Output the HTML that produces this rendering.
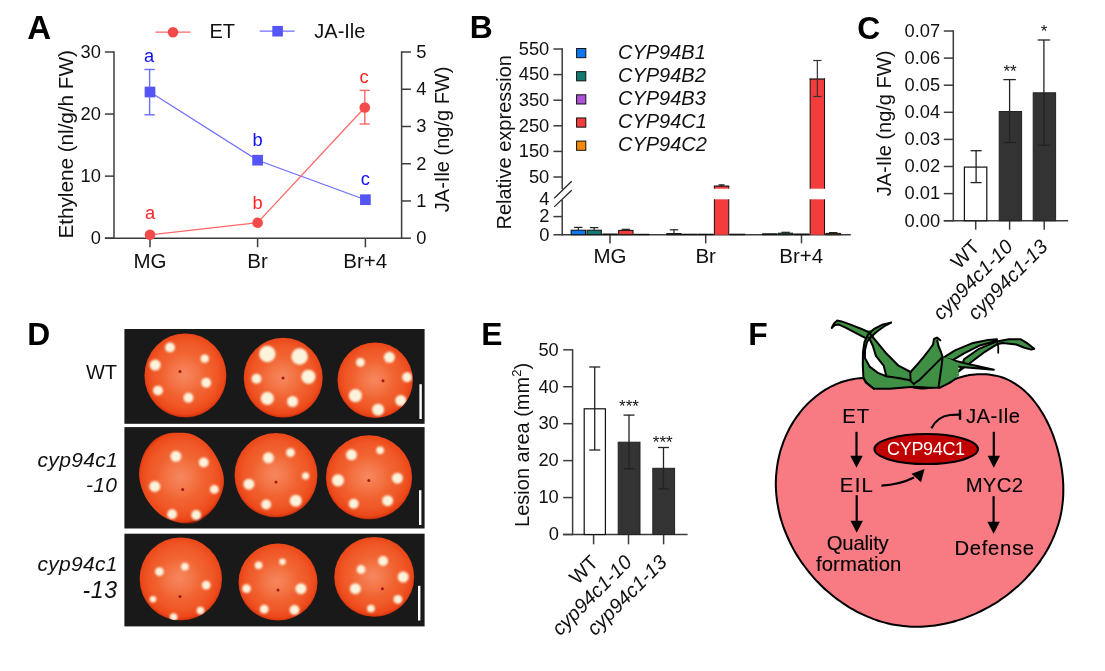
<!DOCTYPE html>
<html><head><meta charset="utf-8"><style>
html,body{margin:0;padding:0;background:#fff;}
svg{display:block;font-family:"Liberation Sans", sans-serif;will-change:transform;}
</style></head><body>
<svg width="1105" height="671" viewBox="0 0 1105 671">
<defs>
<radialGradient id="tg" cx="0.5" cy="0.48" r="0.52">
<stop offset="0" stop-color="#f47848"/>
<stop offset="0.4" stop-color="#f26836"/>
<stop offset="0.75" stop-color="#f05726"/>
<stop offset="0.92" stop-color="#ec4718"/>
<stop offset="0.975" stop-color="#d83812"/>
<stop offset="1" stop-color="#801c06"/>
</radialGradient>
<radialGradient id="hl" cx="0.5" cy="0.5" r="0.5">
<stop offset="0" stop-color="#ffc0b0" stop-opacity="0.22"/>
<stop offset="1" stop-color="#ffc8bc" stop-opacity="0"/>
</radialGradient>
<filter id="bl" x="-50%" y="-50%" width="200%" height="200%"><feGaussianBlur stdDeviation="0.9"/></filter>
</defs>
<text x="27.2" y="38.7" font-size="33" font-weight="bold" fill="#000">A</text>
<line x1="114.0" y1="51.3" x2="114.0" y2="238.9" stroke="#3c3c3c" stroke-width="1.5" />
<line x1="104.9" y1="238.2" x2="401.6" y2="238.2" stroke="#3c3c3c" stroke-width="1.5" />
<line x1="401.6" y1="51.3" x2="401.6" y2="238.9" stroke="#3c3c3c" stroke-width="1.5" />
<line x1="104.9" y1="238.2" x2="114.0" y2="238.2" stroke="#3c3c3c" stroke-width="1.5" />
<text x="100.9" y="244.0" font-size="18.3" text-anchor="end" fill="#111" >0</text>
<line x1="104.9" y1="176.13299999999998" x2="114.0" y2="176.13299999999998" stroke="#3c3c3c" stroke-width="1.5" />
<text x="100.9" y="181.933" font-size="18.3" text-anchor="end" fill="#111" >10</text>
<line x1="104.9" y1="114.066" x2="114.0" y2="114.066" stroke="#3c3c3c" stroke-width="1.5" />
<text x="100.9" y="119.866" font-size="18.3" text-anchor="end" fill="#111" >20</text>
<line x1="104.9" y1="51.998999999999995" x2="114.0" y2="51.998999999999995" stroke="#3c3c3c" stroke-width="1.5" />
<text x="100.9" y="57.79899999999999" font-size="18.3" text-anchor="end" fill="#111" >30</text>
<line x1="401.6" y1="238.2" x2="410.9" y2="238.2" stroke="#3c3c3c" stroke-width="1.5" />
<text x="416.3" y="244.0" font-size="18.3" text-anchor="start" fill="#111" >0</text>
<line x1="401.6" y1="200.95999999999998" x2="410.9" y2="200.95999999999998" stroke="#3c3c3c" stroke-width="1.5" />
<text x="416.3" y="206.76" font-size="18.3" text-anchor="start" fill="#111" >1</text>
<line x1="401.6" y1="163.71999999999997" x2="410.9" y2="163.71999999999997" stroke="#3c3c3c" stroke-width="1.5" />
<text x="416.3" y="169.51999999999998" font-size="18.3" text-anchor="start" fill="#111" >2</text>
<line x1="401.6" y1="126.47999999999999" x2="410.9" y2="126.47999999999999" stroke="#3c3c3c" stroke-width="1.5" />
<text x="416.3" y="132.28" font-size="18.3" text-anchor="start" fill="#111" >3</text>
<line x1="401.6" y1="89.23999999999998" x2="410.9" y2="89.23999999999998" stroke="#3c3c3c" stroke-width="1.5" />
<text x="416.3" y="95.03999999999998" font-size="18.3" text-anchor="start" fill="#111" >4</text>
<line x1="401.6" y1="51.99999999999997" x2="410.9" y2="51.99999999999997" stroke="#3c3c3c" stroke-width="1.5" />
<text x="416.3" y="57.79999999999997" font-size="18.3" text-anchor="start" fill="#111" >5</text>
<line x1="150" y1="238.2" x2="150" y2="247.3" stroke="#3c3c3c" stroke-width="1.5" />
<line x1="257.6" y1="238.2" x2="257.6" y2="247.3" stroke="#3c3c3c" stroke-width="1.5" />
<line x1="365.4" y1="238.2" x2="365.4" y2="247.3" stroke="#3c3c3c" stroke-width="1.5" />
<text x="150" y="268" font-size="20.5" text-anchor="middle" fill="#111" >MG</text>
<text x="257.6" y="268" font-size="20.5" text-anchor="middle" fill="#111" >Br</text>
<text x="365.2" y="268" font-size="20.5" text-anchor="middle" fill="#111" >Br+4</text>
<text transform="translate(72.9,238.51) rotate(-90)" font-size="20.8" fill="#111" textLength="188.50" lengthAdjust="spacing" >Ethylene (nl/g/h FW)</text>
<text transform="translate(449,139.4) rotate(-90)" font-size="20" text-anchor="middle" fill="#111" >JA-Ile (ng/g FW)</text>
<line x1="155.3" y1="32.2" x2="190.6" y2="32.2" stroke="#f66" stroke-width="1.3" />
<circle cx="173" cy="32.2" r="5.3" fill="#f54a4a"/>
<text x="209.4" y="38.1" font-size="20" text-anchor="start" fill="#111" >ET</text>
<line x1="259.7" y1="31.2" x2="294.6" y2="31.2" stroke="#6d6dff" stroke-width="1.3" />
<rect x="272.3" y="25.9" width="10.6" height="10.6" fill="#5555f5"/>
<text x="314.3" y="37.8" font-size="20" text-anchor="start" fill="#111" >JA-Ile</text>
<polyline points="150,92 257.6,160.2 365.4,199.7" fill="none" stroke="#6d6dff" stroke-width="1.2"/>
<line x1="149.6" y1="69.5" x2="149.6" y2="114.8" stroke="#6d6dff" stroke-width="1.4" />
<line x1="144.4" y1="69.5" x2="154.8" y2="69.5" stroke="#6d6dff" stroke-width="1.4" />
<line x1="144.4" y1="114.8" x2="154.8" y2="114.8" stroke="#6d6dff" stroke-width="1.4" />
<rect x="144.65" y="86.65" width="10.7" height="10.7" fill="#5555f5"/>
<rect x="252.25000000000003" y="154.85" width="10.7" height="10.7" fill="#5555f5"/>
<rect x="360.04999999999995" y="194.35" width="10.7" height="10.7" fill="#5555f5"/>
<polyline points="150,234.8 257.6,222.7 364.8,107.5" fill="none" stroke="#f66" stroke-width="1.2"/>
<line x1="364.8" y1="90.4" x2="364.8" y2="124" stroke="#f66" stroke-width="1.4" />
<line x1="359.6" y1="90.4" x2="369.8" y2="90.4" stroke="#f66" stroke-width="1.4" />
<line x1="359.6" y1="124" x2="369.8" y2="124" stroke="#f66" stroke-width="1.4" />
<circle cx="150" cy="234.8" r="5.3" fill="#f54a4a"/>
<circle cx="257.6" cy="222.7" r="5.3" fill="#f54a4a"/>
<circle cx="364.8" cy="107.5" r="5.3" fill="#f54a4a"/>
<text x="149" y="62.4" font-size="18.3" text-anchor="middle" fill="#1010ee" >a</text>
<text x="257.6" y="146" font-size="18.3" text-anchor="middle" fill="#1010ee" >b</text>
<text x="365.4" y="184.6" font-size="18.3" text-anchor="middle" fill="#1010ee" >c</text>
<text x="150" y="219" font-size="18.3" text-anchor="middle" fill="#f22" >a</text>
<text x="257.6" y="208.6" font-size="18.3" text-anchor="middle" fill="#f22" >b</text>
<text x="364" y="82.7" font-size="18.3" text-anchor="middle" fill="#f22" >c</text>
<text x="469.8" y="38.4" font-size="31.8" font-weight="bold" fill="#000">B</text>
<line x1="562.2" y1="48.3" x2="562.2" y2="189" stroke="#3c3c3c" stroke-width="1.5" />
<line x1="562.2" y1="199.7" x2="562.2" y2="235.39999999999998" stroke="#3c3c3c" stroke-width="1.5" />
<line x1="553.4" y1="234.7" x2="850.8" y2="234.7" stroke="#3c3c3c" stroke-width="1.5" />
<line x1="553.4" y1="49.0" x2="562.2" y2="49.0" stroke="#3c3c3c" stroke-width="1.5" />
<text x="549.3" y="54.8" font-size="18.3" text-anchor="end" fill="#111" >550</text>
<line x1="553.4" y1="74.6" x2="562.2" y2="74.6" stroke="#3c3c3c" stroke-width="1.5" />
<text x="549.3" y="80.39999999999999" font-size="18.3" text-anchor="end" fill="#111" >450</text>
<line x1="553.4" y1="100.2" x2="562.2" y2="100.2" stroke="#3c3c3c" stroke-width="1.5" />
<text x="549.3" y="106.0" font-size="18.3" text-anchor="end" fill="#111" >350</text>
<line x1="553.4" y1="125.80000000000001" x2="562.2" y2="125.80000000000001" stroke="#3c3c3c" stroke-width="1.5" />
<text x="549.3" y="131.60000000000002" font-size="18.3" text-anchor="end" fill="#111" >250</text>
<line x1="553.4" y1="151.4" x2="562.2" y2="151.4" stroke="#3c3c3c" stroke-width="1.5" />
<text x="549.3" y="157.20000000000002" font-size="18.3" text-anchor="end" fill="#111" >150</text>
<line x1="553.4" y1="177.0" x2="562.2" y2="177.0" stroke="#3c3c3c" stroke-width="1.5" />
<text x="549.3" y="182.8" font-size="18.3" text-anchor="end" fill="#111" >50</text>
<line x1="553.4" y1="216.6" x2="562.2" y2="216.6" stroke="#3c3c3c" stroke-width="1.5" />
<text x="549.3" y="222.4" font-size="18.3" text-anchor="end" fill="#111" >2</text>
<text x="549.3" y="240.5" font-size="18.3" text-anchor="end" fill="#111" >0</text>
<text x="549.3" y="204.70000000000002" font-size="18.3" text-anchor="end" fill="#111" >4</text>
<line x1="554.2" y1="198.3" x2="571.7" y2="181.2" stroke="#222" stroke-width="1.2" />
<line x1="554.2" y1="206.9" x2="571.7" y2="190.2" stroke="#222" stroke-width="1.2" />
<text transform="translate(510.6,142.3) rotate(-90)" font-size="20" text-anchor="middle" fill="#111" >Relative expression</text>
<line x1="610" y1="234.7" x2="610" y2="243.4" stroke="#3c3c3c" stroke-width="1.5" />
<line x1="705.7" y1="234.7" x2="705.7" y2="243.4" stroke="#3c3c3c" stroke-width="1.5" />
<line x1="801.5" y1="234.7" x2="801.5" y2="243.4" stroke="#3c3c3c" stroke-width="1.5" />
<text x="610" y="263.4" font-size="20.5" text-anchor="middle" fill="#111" >MG</text>
<text x="705.7" y="263.4" font-size="20.5" text-anchor="middle" fill="#111" >Br</text>
<text x="801.3" y="263.4" font-size="20.5" text-anchor="middle" fill="#111" >Br+4</text>
<rect x="576.6" y="48.5" width="9.2" height="9.2" fill="#0a78f0" stroke="#111" stroke-width="1"/>
<text x="618" y="58.7" font-size="20" text-anchor="start" fill="#111" font-style="italic">CYP94B1</text>
<rect x="576.6" y="71.65" width="9.2" height="9.2" fill="#127a70" stroke="#111" stroke-width="1"/>
<text x="618" y="81.85" font-size="20" text-anchor="start" fill="#111" font-style="italic">CYP94B2</text>
<rect x="576.6" y="94.80000000000001" width="9.2" height="9.2" fill="#b050d8" stroke="#111" stroke-width="1"/>
<text x="618" y="105.0" font-size="20" text-anchor="start" fill="#111" font-style="italic">CYP94B3</text>
<rect x="576.6" y="117.94999999999999" width="9.2" height="9.2" fill="#f43c3c" stroke="#111" stroke-width="1"/>
<text x="618" y="128.14999999999998" font-size="20" text-anchor="start" fill="#111" font-style="italic">CYP94C1</text>
<rect x="576.6" y="141.1" width="9.2" height="9.2" fill="#f58a05" stroke="#111" stroke-width="1"/>
<text x="618" y="151.29999999999998" font-size="20" text-anchor="start" fill="#111" font-style="italic">CYP94C2</text>
<rect x="571.0999999999999" y="230.2" width="14.4" height="4.5" fill="#0a78f0" stroke="#111" stroke-width="1"/>
<line x1="578.3" y1="227.4" x2="578.3" y2="230.2" stroke="#222" stroke-width="1.2" />
<line x1="574.05" y1="227.4" x2="582.55" y2="227.4" stroke="#222" stroke-width="1.2" />
<rect x="586.9499999999999" y="230.2" width="14.4" height="4.5" fill="#127a70" stroke="#111" stroke-width="1"/>
<line x1="594.15" y1="227.6" x2="594.15" y2="230.2" stroke="#222" stroke-width="1.2" />
<line x1="589.9" y1="227.6" x2="598.4" y2="227.6" stroke="#222" stroke-width="1.2" />
<rect x="602.8" y="234.0" width="14.4" height="0.6999999999999886" fill="#b050d8" stroke="#111" stroke-width="1"/>
<rect x="618.65" y="230.4" width="14.4" height="4.299999999999983" fill="#f43c3c" stroke="#111" stroke-width="1"/>
<line x1="625.85" y1="229.3" x2="625.85" y2="230.4" stroke="#222" stroke-width="1.2" />
<line x1="621.6" y1="229.3" x2="630.1" y2="229.3" stroke="#222" stroke-width="1.2" />
<rect x="634.5" y="234.3" width="14.4" height="0.39999999999997726" fill="#f58a05" stroke="#111" stroke-width="1"/>
<rect x="666.8" y="233.6" width="14.4" height="1.0999999999999943" fill="#0a78f0" stroke="#111" stroke-width="1"/>
<line x1="674.0" y1="229.8" x2="674.0" y2="233.6" stroke="#222" stroke-width="1.2" />
<line x1="669.75" y1="229.8" x2="678.25" y2="229.8" stroke="#222" stroke-width="1.2" />
<rect x="682.65" y="234.2" width="14.4" height="0.5" fill="#127a70" stroke="#111" stroke-width="1"/>
<rect x="698.5" y="234.2" width="14.4" height="0.5" fill="#b050d8" stroke="#111" stroke-width="1"/>
<rect x="714.35" y="199.3" width="14.4" height="35.39999999999998" fill="#f43c3c"/>
<line x1="714.35" y1="199.3" x2="714.35" y2="234.7" stroke="#111" stroke-width="1" />
<line x1="728.75" y1="199.3" x2="728.75" y2="234.7" stroke="#111" stroke-width="1" />
<rect x="714.35" y="186.1" width="14.4" height="2.6" fill="#f43c3c"/>
<line x1="714.35" y1="186.1" x2="714.35" y2="188.7" stroke="#111" stroke-width="1" />
<line x1="728.75" y1="186.1" x2="728.75" y2="188.7" stroke="#111" stroke-width="1" />
<line x1="713.85" y1="186.1" x2="729.25" y2="186.1" stroke="#111" stroke-width="1.2" />
<line x1="718.5500000000001" y1="184.9" x2="724.5500000000001" y2="184.9" stroke="#111" stroke-width="1.2" />
<line x1="721.5500000000001" y1="184.9" x2="721.5500000000001" y2="186.1" stroke="#111" stroke-width="1.2" />
<rect x="730.2" y="234.2" width="14.4" height="0.5" fill="#f58a05" stroke="#111" stroke-width="1"/>
<rect x="762.5999999999999" y="233.8" width="14.4" height="0.8999999999999773" fill="#0a78f0" stroke="#111" stroke-width="1"/>
<rect x="778.4499999999999" y="233.2" width="14.4" height="1.5" fill="#127a70" stroke="#111" stroke-width="1"/>
<line x1="785.65" y1="232.3" x2="785.65" y2="233.2" stroke="#222" stroke-width="1.2" />
<line x1="781.4" y1="232.3" x2="789.9" y2="232.3" stroke="#222" stroke-width="1.2" />
<rect x="794.3" y="234.0" width="14.4" height="0.6999999999999886" fill="#b050d8" stroke="#111" stroke-width="1"/>
<rect x="810.15" y="199.3" width="14.4" height="35.39999999999998" fill="#f43c3c"/>
<line x1="810.15" y1="199.3" x2="810.15" y2="234.7" stroke="#111" stroke-width="1" />
<line x1="824.55" y1="199.3" x2="824.55" y2="234.7" stroke="#111" stroke-width="1" />
<rect x="810.15" y="79" width="14.4" height="109.69999999999999" fill="#f43c3c"/>
<line x1="810.15" y1="78.5" x2="810.15" y2="188.7" stroke="#111" stroke-width="1" />
<line x1="824.55" y1="78.5" x2="824.55" y2="188.7" stroke="#111" stroke-width="1" />
<line x1="809.65" y1="79" x2="825.05" y2="79" stroke="#111" stroke-width="1.2" />
<line x1="817.35" y1="60.5" x2="817.35" y2="96.5" stroke="#333" stroke-width="1.2" />
<line x1="813.2" y1="60.5" x2="821.5" y2="60.5" stroke="#333" stroke-width="1.2" />
<line x1="813.2" y1="96.5" x2="821.5" y2="96.5" stroke="#333" stroke-width="1.2" />
<rect x="826.0" y="233.4" width="14.4" height="1.299999999999983" fill="#f58a05" stroke="#111" stroke-width="1"/>
<line x1="833.2" y1="232.6" x2="833.2" y2="233.4" stroke="#222" stroke-width="1.2" />
<line x1="828.95" y1="232.6" x2="837.45" y2="232.6" stroke="#222" stroke-width="1.2" />
<text x="857.2" y="38.5" font-size="31.8" font-weight="bold" fill="#000">C</text>
<line x1="953.3" y1="30.3" x2="953.3" y2="221.39999999999998" stroke="#3c3c3c" stroke-width="1.5" />
<line x1="943.8" y1="220.7" x2="1068.2" y2="220.7" stroke="#3c3c3c" stroke-width="1.5" />
<line x1="943.8" y1="220.7" x2="953.3" y2="220.7" stroke="#3c3c3c" stroke-width="1.5" />
<text x="940.2" y="226.5" font-size="18.3" text-anchor="end" fill="#111" >0.00</text>
<line x1="943.8" y1="193.6" x2="953.3" y2="193.6" stroke="#3c3c3c" stroke-width="1.5" />
<text x="940.2" y="199.4" font-size="18.3" text-anchor="end" fill="#111" >0.01</text>
<line x1="943.8" y1="166.5" x2="953.3" y2="166.5" stroke="#3c3c3c" stroke-width="1.5" />
<text x="940.2" y="172.3" font-size="18.3" text-anchor="end" fill="#111" >0.02</text>
<line x1="943.8" y1="139.39999999999998" x2="953.3" y2="139.39999999999998" stroke="#3c3c3c" stroke-width="1.5" />
<text x="940.2" y="145.2" font-size="18.3" text-anchor="end" fill="#111" >0.03</text>
<line x1="943.8" y1="112.29999999999998" x2="953.3" y2="112.29999999999998" stroke="#3c3c3c" stroke-width="1.5" />
<text x="940.2" y="118.09999999999998" font-size="18.3" text-anchor="end" fill="#111" >0.04</text>
<line x1="943.8" y1="85.19999999999999" x2="953.3" y2="85.19999999999999" stroke="#3c3c3c" stroke-width="1.5" />
<text x="940.2" y="90.99999999999999" font-size="18.3" text-anchor="end" fill="#111" >0.05</text>
<line x1="943.8" y1="58.099999999999994" x2="953.3" y2="58.099999999999994" stroke="#3c3c3c" stroke-width="1.5" />
<text x="940.2" y="63.89999999999999" font-size="18.3" text-anchor="end" fill="#111" >0.06</text>
<line x1="943.8" y1="30.99999999999997" x2="953.3" y2="30.99999999999997" stroke="#3c3c3c" stroke-width="1.5" />
<text x="940.2" y="36.79999999999997" font-size="18.3" text-anchor="end" fill="#111" >0.07</text>
<line x1="975.7" y1="220.7" x2="975.7" y2="229.7" stroke="#3c3c3c" stroke-width="1.5" />
<line x1="1009.6" y1="220.7" x2="1009.6" y2="229.7" stroke="#3c3c3c" stroke-width="1.5" />
<line x1="1044.2" y1="220.7" x2="1044.2" y2="229.7" stroke="#3c3c3c" stroke-width="1.5" />
<text transform="translate(890.9,123.5) rotate(-90)" font-size="20" text-anchor="middle" fill="#111" >JA-Ile (ng/g FW)</text>
<rect x="964.4" y="167.1" width="22.4" height="53.599999999999994" fill="#fff" stroke="#111" stroke-width="1.2"/>
<rect x="999.1999999999999" y="111.5" width="22.4" height="109.19999999999999" fill="#333" stroke="#222" stroke-width="1"/>
<rect x="1033.2" y="92.8" width="22.4" height="127.89999999999999" fill="#333" stroke="#222" stroke-width="1"/>
<line x1="976.1" y1="150.7" x2="976.1" y2="182.6" stroke="#222" stroke-width="1.3" />
<line x1="970.6" y1="150.7" x2="981.6" y2="150.7" stroke="#222" stroke-width="1.3" />
<line x1="970.6" y1="182.6" x2="981.6" y2="182.6" stroke="#222" stroke-width="1.3" />
<line x1="1009.6" y1="79.6" x2="1009.6" y2="142.5" stroke="#222" stroke-width="1.3" />
<line x1="1003.35" y1="79.6" x2="1015.85" y2="79.6" stroke="#222" stroke-width="1.3" />
<line x1="1003.35" y1="142.5" x2="1015.85" y2="142.5" stroke="#222" stroke-width="1.3" />
<line x1="1043.9" y1="40" x2="1043.9" y2="145.3" stroke="#222" stroke-width="1.3" />
<line x1="1037.65" y1="40" x2="1050.15" y2="40" stroke="#222" stroke-width="1.3" />
<line x1="1037.65" y1="145.3" x2="1050.15" y2="145.3" stroke="#222" stroke-width="1.3" />
<text x="1010" y="77" font-size="17" text-anchor="middle" fill="#111" >**</text>
<text x="1044" y="36.8" font-size="17" text-anchor="middle" fill="#111" >*</text>
<text transform="translate(981,248) rotate(-45)" font-size="20" text-anchor="end" fill="#111">WT</text>
<text transform="translate(1014.2,248) rotate(-45)" font-size="20" text-anchor="end" fill="#111"><tspan font-style="italic">cyp94c1-10</tspan></text>
<text transform="translate(1048.8,248) rotate(-45)" font-size="20" text-anchor="end" fill="#111"><tspan font-style="italic">cyp94c1-13</tspan></text>
<text x="481.3" y="345" font-size="31.8" font-weight="bold" fill="#000">E</text>
<line x1="572.6" y1="349.1" x2="572.6" y2="535.2" stroke="#3c3c3c" stroke-width="1.5" />
<line x1="563" y1="534.5" x2="687.6" y2="534.5" stroke="#3c3c3c" stroke-width="1.5" />
<line x1="563.2" y1="534.5" x2="572.6" y2="534.5" stroke="#3c3c3c" stroke-width="1.5" />
<text x="558.8" y="540.3" font-size="18.3" text-anchor="end" fill="#111" >0</text>
<line x1="563.2" y1="497.56" x2="572.6" y2="497.56" stroke="#3c3c3c" stroke-width="1.5" />
<text x="558.8" y="503.36" font-size="18.3" text-anchor="end" fill="#111" >10</text>
<line x1="563.2" y1="460.62" x2="572.6" y2="460.62" stroke="#3c3c3c" stroke-width="1.5" />
<text x="558.8" y="466.42" font-size="18.3" text-anchor="end" fill="#111" >20</text>
<line x1="563.2" y1="423.68" x2="572.6" y2="423.68" stroke="#3c3c3c" stroke-width="1.5" />
<text x="558.8" y="429.48" font-size="18.3" text-anchor="end" fill="#111" >30</text>
<line x1="563.2" y1="386.74" x2="572.6" y2="386.74" stroke="#3c3c3c" stroke-width="1.5" />
<text x="558.8" y="392.54" font-size="18.3" text-anchor="end" fill="#111" >40</text>
<line x1="563.2" y1="349.8" x2="572.6" y2="349.8" stroke="#3c3c3c" stroke-width="1.5" />
<text x="558.8" y="355.6" font-size="18.3" text-anchor="end" fill="#111" >50</text>
<line x1="593.6" y1="534.5" x2="593.6" y2="544.3" stroke="#3c3c3c" stroke-width="1.5" />
<line x1="628.5" y1="534.5" x2="628.5" y2="544.3" stroke="#3c3c3c" stroke-width="1.5" />
<line x1="663.6" y1="534.5" x2="663.6" y2="544.3" stroke="#3c3c3c" stroke-width="1.5" />
<text transform="translate(528.6,444.9) rotate(-90)" font-size="20" text-anchor="middle" fill="#111" >Lesion area (mm<tspan font-size="13" dy="-8">2</tspan><tspan dy="8">)</tspan></text>
<rect x="584.2" y="408.8" width="21.2" height="125.69999999999999" fill="#fff" stroke="#111" stroke-width="1.2"/>
<rect x="618.2" y="442.2" width="21.8" height="92.30000000000001" fill="#333" stroke="#222" stroke-width="1"/>
<rect x="652.8" y="468.3" width="21.8" height="66.19999999999999" fill="#333" stroke="#222" stroke-width="1"/>
<line x1="594.7" y1="367" x2="594.7" y2="450" stroke="#222" stroke-width="1.3" />
<line x1="589.2" y1="367" x2="600.2" y2="367" stroke="#222" stroke-width="1.3" />
<line x1="589.2" y1="450" x2="600.2" y2="450" stroke="#222" stroke-width="1.3" />
<line x1="629" y1="415.1" x2="629" y2="468.8" stroke="#222" stroke-width="1.3" />
<line x1="623.5" y1="415.1" x2="634.5" y2="415.1" stroke="#222" stroke-width="1.3" />
<line x1="623.5" y1="468.8" x2="634.5" y2="468.8" stroke="#222" stroke-width="1.3" />
<line x1="663.5" y1="447.5" x2="663.5" y2="488.9" stroke="#222" stroke-width="1.3" />
<line x1="658.0" y1="447.5" x2="669.0" y2="447.5" stroke="#222" stroke-width="1.3" />
<line x1="658.0" y1="488.9" x2="669.0" y2="488.9" stroke="#222" stroke-width="1.3" />
<text x="629" y="412.4" font-size="17" text-anchor="middle" fill="#111" >***</text>
<text x="662.8" y="448" font-size="17" text-anchor="middle" fill="#111" >***</text>
<text transform="translate(599.5,563.5) rotate(-45)" font-size="20" text-anchor="end" fill="#111">WT</text>
<text transform="translate(633,563.5) rotate(-45)" font-size="20" text-anchor="end" fill="#111"><tspan font-style="italic">cyp94c1-10</tspan></text>
<text transform="translate(668,563.5) rotate(-45)" font-size="20" text-anchor="end" fill="#111"><tspan font-style="italic">cyp94c1-13</tspan></text>
<text x="27.3" y="345.1" font-size="31.8" font-weight="bold" fill="#000">D</text>
<text x="117" y="378.8" font-size="20" text-anchor="end" fill="#111" >WT</text>
<text x="37.51" y="466.9" font-size="21" fill="#111" textLength="80.26" lengthAdjust="spacing" font-style="italic">cyp94c1</text>
<text x="86.12" y="491.8" font-size="21" fill="#111" textLength="30.85" lengthAdjust="spacing" font-style="italic">-10</text>
<text x="37.51" y="570.6" font-size="21" fill="#111" textLength="79.86" lengthAdjust="spacing" font-style="italic">cyp94c1</text>
<text x="82.52" y="597.5" font-size="23" fill="#111" textLength="34.48" lengthAdjust="spacing" font-style="italic">-13</text>
<rect x="124.4" y="329" width="300.2" height="94.80000000000001" fill="#1a1919"/>
<rect x="124.4" y="427.1" width="300.2" height="101.39999999999998" fill="#1a1919"/>
<rect x="124.4" y="533.7" width="300.2" height="92.69999999999993" fill="#1a1919"/>
<clipPath id="tc0"><ellipse cx="185.4" cy="375.5" rx="41" ry="42.1"/></clipPath>
<ellipse cx="185.4" cy="375.5" rx="41" ry="42.1" fill="url(#tg)"/>
<g clip-path="url(#tc0)">
<ellipse cx="183.4" cy="375.5" rx="22.55" ry="21.05" fill="url(#hl)"/>
<circle cx="170" cy="347.4" r="4.95" fill="#fcf3dc" filter="url(#bl)"/>
<circle cx="155.2" cy="365.1" r="5.50" fill="#fcf3dc" filter="url(#bl)"/>
<circle cx="204.7" cy="358.7" r="4.12" fill="#fcf3dc" filter="url(#bl)"/>
<circle cx="206.2" cy="382.8" r="4.95" fill="#fcf3dc" filter="url(#bl)"/>
<circle cx="158" cy="390.6" r="4.95" fill="#fcf3dc" filter="url(#bl)"/>
<circle cx="188.4" cy="397.7" r="4.95" fill="#fcf3dc" filter="url(#bl)"/>
<circle cx="180" cy="371.5" r="1.5" fill="#a01810"/>
</g>
<clipPath id="tc1"><ellipse cx="283.2" cy="377.8" rx="39.5" ry="40"/></clipPath>
<ellipse cx="283.2" cy="377.8" rx="39.5" ry="40" fill="url(#tg)"/>
<g clip-path="url(#tc1)">
<ellipse cx="281.2" cy="377.8" rx="21.725" ry="20.0" fill="url(#hl)"/>
<circle cx="267.3" cy="354" r="8.25" fill="#fcf3dc" filter="url(#bl)"/>
<circle cx="299.6" cy="356.5" r="8.25" fill="#fcf3dc" filter="url(#bl)"/>
<circle cx="256.5" cy="378.7" r="4.95" fill="#fcf3dc" filter="url(#bl)"/>
<circle cx="308.4" cy="376.8" r="7.15" fill="#fcf3dc" filter="url(#bl)"/>
<circle cx="267.3" cy="398.4" r="6.60" fill="#fcf3dc" filter="url(#bl)"/>
<circle cx="292.6" cy="401.5" r="5.50" fill="#fcf3dc" filter="url(#bl)"/>
<circle cx="283" cy="378" r="1.5" fill="#a01810"/>
</g>
<clipPath id="tc2"><ellipse cx="375.2" cy="380.3" rx="37.7" ry="37.9"/></clipPath>
<ellipse cx="375.2" cy="380.3" rx="37.7" ry="37.9" fill="url(#tg)"/>
<g clip-path="url(#tc2)">
<ellipse cx="373.2" cy="380.3" rx="20.735000000000003" ry="18.95" fill="url(#hl)"/>
<circle cx="360.4" cy="362.3" r="4.40" fill="#fcf3dc" filter="url(#bl)"/>
<circle cx="389.4" cy="357.3" r="5.50" fill="#fcf3dc" filter="url(#bl)"/>
<circle cx="407.1" cy="377.2" r="4.95" fill="#fcf3dc" filter="url(#bl)"/>
<circle cx="355.4" cy="395.6" r="6.60" fill="#fcf3dc" filter="url(#bl)"/>
<circle cx="400.8" cy="400.5" r="5.50" fill="#fcf3dc" filter="url(#bl)"/>
<circle cx="378.1" cy="409.7" r="6.05" fill="#fcf3dc" filter="url(#bl)"/>
<circle cx="383" cy="380.7" r="1.5" fill="#a01810"/>
</g>
<clipPath id="tc3"><path d="M177,432.8 C181.7,432.8 187.7,432.6 192.6,434.4 C197.5,436.2 202.8,440.1 206.7,443.8 C210.6,447.5 213.5,451.9 216.1,456.3 C218.7,460.7 221.0,466.0 222.3,470.4 C223.6,474.8 224.2,478.7 223.9,482.9 C223.7,487.1 222.6,491.0 220.8,495.4 C219.0,499.8 216.3,505.3 212.9,509.5 C209.5,513.7 204.6,518.1 200.4,520.5 C196.2,522.9 192.3,523.5 187.9,523.6 C183.5,523.7 178.5,522.8 173.8,521.2 C169.1,519.6 164.1,517.7 159.7,514.2 C155.3,510.7 150.4,505.3 147.2,500.1 C143.9,494.9 141.5,488.1 140.2,482.9 C138.9,477.7 138.8,473.8 139.4,468.8 C140.1,463.9 141.8,457.9 144.1,453.2 C146.4,448.5 150.1,443.7 153.5,440.6 C156.9,437.5 160.5,435.7 164.4,434.4 C168.3,433.1 172.3,432.8 177,432.8 Z"/></clipPath>
<path d="M177,432.8 C181.7,432.8 187.7,432.6 192.6,434.4 C197.5,436.2 202.8,440.1 206.7,443.8 C210.6,447.5 213.5,451.9 216.1,456.3 C218.7,460.7 221.0,466.0 222.3,470.4 C223.6,474.8 224.2,478.7 223.9,482.9 C223.7,487.1 222.6,491.0 220.8,495.4 C219.0,499.8 216.3,505.3 212.9,509.5 C209.5,513.7 204.6,518.1 200.4,520.5 C196.2,522.9 192.3,523.5 187.9,523.6 C183.5,523.7 178.5,522.8 173.8,521.2 C169.1,519.6 164.1,517.7 159.7,514.2 C155.3,510.7 150.4,505.3 147.2,500.1 C143.9,494.9 141.5,488.1 140.2,482.9 C138.9,477.7 138.8,473.8 139.4,468.8 C140.1,463.9 141.8,457.9 144.1,453.2 C146.4,448.5 150.1,443.7 153.5,440.6 C156.9,437.5 160.5,435.7 164.4,434.4 C168.3,433.1 172.3,432.8 177,432.8 Z" fill="url(#tg)"/>
<g clip-path="url(#tc3)">
<ellipse cx="179.4" cy="477.8" rx="23.650000000000002" ry="22.75" fill="url(#hl)"/>
<circle cx="175.9" cy="456.3" r="5.50" fill="#fcf3dc" filter="url(#bl)"/>
<circle cx="203.7" cy="462.4" r="4.95" fill="#fcf3dc" filter="url(#bl)"/>
<circle cx="154.8" cy="486.4" r="5.50" fill="#fcf3dc" filter="url(#bl)"/>
<circle cx="214.3" cy="489.4" r="4.40" fill="#fcf3dc" filter="url(#bl)"/>
<circle cx="172.1" cy="514.3" r="4.95" fill="#fcf3dc" filter="url(#bl)"/>
<circle cx="196.2" cy="515" r="4.95" fill="#fcf3dc" filter="url(#bl)"/>
<circle cx="182.7" cy="489.4" r="1.5" fill="#a01810"/>
</g>
<clipPath id="tc4"><ellipse cx="276" cy="475.3" rx="41.5" ry="42.2"/></clipPath>
<ellipse cx="276" cy="475.3" rx="41.5" ry="42.2" fill="url(#tg)"/>
<g clip-path="url(#tc4)">
<ellipse cx="274" cy="475.3" rx="22.825000000000003" ry="21.1" fill="url(#hl)"/>
<circle cx="268.4" cy="457.8" r="5.50" fill="#fcf3dc" filter="url(#bl)"/>
<circle cx="290.5" cy="452.6" r="4.40" fill="#fcf3dc" filter="url(#bl)"/>
<circle cx="248.9" cy="484.2" r="5.50" fill="#fcf3dc" filter="url(#bl)"/>
<circle cx="305.6" cy="475.9" r="3.58" fill="#fcf3dc" filter="url(#bl)"/>
<circle cx="266.2" cy="504.5" r="4.95" fill="#fcf3dc" filter="url(#bl)"/>
<circle cx="295.8" cy="500.7" r="6.05" fill="#fcf3dc" filter="url(#bl)"/>
<circle cx="276" cy="482" r="1.5" fill="#a01810"/>
</g>
<clipPath id="tc5"><ellipse cx="369" cy="477.4" rx="43.1" ry="42.1"/></clipPath>
<ellipse cx="369" cy="477.4" rx="43.1" ry="42.1" fill="url(#tg)"/>
<g clip-path="url(#tc5)">
<ellipse cx="367" cy="477.4" rx="23.705000000000002" ry="21.05" fill="url(#hl)"/>
<circle cx="351.5" cy="454.8" r="5.50" fill="#fcf3dc" filter="url(#bl)"/>
<circle cx="380.1" cy="450.3" r="3.85" fill="#fcf3dc" filter="url(#bl)"/>
<circle cx="397.4" cy="478.2" r="5.50" fill="#fcf3dc" filter="url(#bl)"/>
<circle cx="338" cy="480.4" r="6.05" fill="#fcf3dc" filter="url(#bl)"/>
<circle cx="353.7" cy="503.7" r="4.95" fill="#fcf3dc" filter="url(#bl)"/>
<circle cx="387.6" cy="500.7" r="5.50" fill="#fcf3dc" filter="url(#bl)"/>
<circle cx="368.8" cy="480.4" r="1.5" fill="#a01810"/>
</g>
<clipPath id="tc6"><ellipse cx="180.8" cy="579" rx="41.2" ry="41.6"/></clipPath>
<ellipse cx="180.8" cy="579" rx="41.2" ry="41.6" fill="url(#tg)"/>
<g clip-path="url(#tc6)">
<ellipse cx="178.8" cy="579" rx="22.660000000000004" ry="20.8" fill="url(#hl)"/>
<circle cx="159.4" cy="571.7" r="4.40" fill="#fcf3dc" filter="url(#bl)"/>
<circle cx="184.9" cy="566.7" r="3.85" fill="#fcf3dc" filter="url(#bl)"/>
<circle cx="206.2" cy="585.1" r="4.40" fill="#fcf3dc" filter="url(#bl)"/>
<circle cx="153" cy="599.3" r="3.30" fill="#fcf3dc" filter="url(#bl)"/>
<circle cx="200.5" cy="610.6" r="3.85" fill="#fcf3dc" filter="url(#bl)"/>
<circle cx="173.6" cy="617" r="3.85" fill="#fcf3dc" filter="url(#bl)"/>
<circle cx="180" cy="596.4" r="1.5" fill="#a01810"/>
</g>
<clipPath id="tc7"><ellipse cx="278" cy="582.2" rx="39.5" ry="38.6"/></clipPath>
<ellipse cx="278" cy="582.2" rx="39.5" ry="38.6" fill="url(#tg)"/>
<g clip-path="url(#tc7)">
<ellipse cx="276" cy="582.2" rx="21.725" ry="19.3" fill="url(#hl)"/>
<circle cx="258.6" cy="565.3" r="3.85" fill="#fcf3dc" filter="url(#bl)"/>
<circle cx="282.5" cy="561.7" r="3.30" fill="#fcf3dc" filter="url(#bl)"/>
<circle cx="246.5" cy="588.7" r="4.40" fill="#fcf3dc" filter="url(#bl)"/>
<circle cx="300.9" cy="588.7" r="5.50" fill="#fcf3dc" filter="url(#bl)"/>
<circle cx="264.2" cy="609.2" r="4.40" fill="#fcf3dc" filter="url(#bl)"/>
<circle cx="294.5" cy="609.9" r="4.95" fill="#fcf3dc" filter="url(#bl)"/>
<circle cx="278" cy="590" r="1.5" fill="#a01810"/>
</g>
<clipPath id="tc8"><ellipse cx="374.2" cy="577" rx="40" ry="40"/></clipPath>
<ellipse cx="374.2" cy="577" rx="40" ry="40" fill="url(#tg)"/>
<g clip-path="url(#tc8)">
<ellipse cx="372.2" cy="577" rx="22.0" ry="20.0" fill="url(#hl)"/>
<circle cx="361.1" cy="569.5" r="4.40" fill="#fcf3dc" filter="url(#bl)"/>
<circle cx="383.1" cy="561" r="4.95" fill="#fcf3dc" filter="url(#bl)"/>
<circle cx="403.2" cy="577" r="5.50" fill="#fcf3dc" filter="url(#bl)"/>
<circle cx="355.4" cy="588.7" r="5.50" fill="#fcf3dc" filter="url(#bl)"/>
<circle cx="397.9" cy="599.3" r="4.40" fill="#fcf3dc" filter="url(#bl)"/>
<circle cx="371" cy="608.5" r="3.85" fill="#fcf3dc" filter="url(#bl)"/>
<circle cx="382.4" cy="588.7" r="1.5" fill="#a01810"/>
</g>
<rect x="419.40000000000003" y="384.2" width="2.4" height="34.80000000000001" fill="#fff"/>
<rect x="419.0" y="490.2" width="2.4" height="34.80000000000001" fill="#fff"/>
<rect x="418.0" y="585.8" width="2.4" height="34.700000000000045" fill="#fff"/>
<text x="748.2" y="345.2" font-size="31.8" font-weight="bold" fill="#000">F</text>
<path d="M870.1,378.2 C868.3,378.1 866.4,378.0 864.6,378.0 C862.8,378.0 861.0,378.1 859.2,378.3 C857.4,378.5 855.6,378.7 853.8,379.0 C852.0,379.3 850.2,379.7 848.5,380.1 C846.8,380.5 845.0,380.9 843.3,381.5 C841.6,382.1 839.9,382.7 838.2,383.4 C836.5,384.1 834.9,384.8 833.2,385.6 C831.6,386.4 829.9,387.2 828.3,388.1 C826.7,389.0 825.1,389.9 823.6,390.9 C822.1,391.9 820.6,392.9 819.1,394.0 C817.6,395.1 816.1,396.2 814.7,397.4 C813.3,398.6 812.0,399.8 810.6,401.0 C809.2,402.2 807.9,403.6 806.6,404.9 C805.3,406.2 804.1,407.5 802.9,408.9 C801.7,410.3 800.6,411.7 799.5,413.1 C798.4,414.5 797.2,416.0 796.2,417.5 C795.2,419.0 794.2,420.6 793.2,422.1 C792.2,423.7 791.3,425.2 790.4,426.8 C789.5,428.4 788.7,430.1 787.9,431.7 C787.1,433.3 786.3,434.9 785.6,436.6 C784.9,438.3 784.1,440.0 783.5,441.7 C782.9,443.4 782.3,445.2 781.7,446.9 C781.1,448.6 780.6,450.3 780.1,452.1 C779.6,453.9 779.2,455.7 778.8,457.5 C778.4,459.3 778.0,461.0 777.7,462.8 C777.4,464.6 777.1,466.4 776.9,468.2 C776.7,470.0 776.5,471.8 776.3,473.6 C776.1,475.4 776.0,477.3 775.9,479.1 C775.8,480.9 775.8,482.7 775.8,484.5 C775.8,486.3 775.9,488.1 776.0,489.9 C776.1,491.7 776.2,493.5 776.4,495.3 C776.6,497.1 776.8,498.9 777.0,500.7 C777.2,502.5 777.6,504.2 777.9,506.0 C778.2,507.8 778.5,509.5 778.9,511.3 C779.3,513.1 779.7,514.9 780.2,516.6 C780.7,518.4 781.2,520.1 781.7,521.8 C782.2,523.5 782.8,525.2 783.4,526.9 C784.0,528.6 784.7,530.3 785.4,532.0 C786.1,533.7 786.8,535.3 787.5,537.0 C788.2,538.7 789.0,540.4 789.8,542.0 C790.6,543.6 791.4,545.3 792.2,546.9 C793.1,548.5 794.0,550.1 794.9,551.7 C795.8,553.3 796.7,554.9 797.7,556.4 C798.7,557.9 799.7,559.5 800.7,561.0 C801.7,562.5 802.8,564.0 803.9,565.5 C805.0,567.0 806.1,568.4 807.2,569.8 C808.3,571.2 809.5,572.7 810.7,574.1 C811.9,575.5 813.1,576.9 814.3,578.3 C815.5,579.7 816.7,581.0 818.0,582.3 C819.3,583.6 820.6,584.9 821.9,586.2 C823.2,587.5 824.5,588.7 825.9,589.9 C827.3,591.1 828.7,592.3 830.1,593.5 C831.5,594.7 832.9,595.9 834.3,597.0 C835.7,598.1 837.2,599.2 838.7,600.3 C840.2,601.4 841.7,602.4 843.2,603.4 C844.7,604.4 846.2,605.4 847.7,606.4 C849.2,607.4 850.8,608.3 852.4,609.2 C854.0,610.1 855.5,611.0 857.1,611.8 C858.7,612.6 860.4,613.4 862.0,614.2 C863.6,615.0 865.2,615.7 866.9,616.4 C868.5,617.1 870.2,617.8 871.9,618.4 C873.6,619.0 875.2,619.7 876.9,620.3 C878.6,620.9 880.3,621.4 882.0,621.9 C883.7,622.4 885.5,622.9 887.2,623.3 C888.9,623.7 890.6,624.1 892.4,624.4 C894.1,624.7 895.9,625.0 897.7,625.3 C899.5,625.6 901.2,625.8 903.0,626.0 C904.8,626.2 906.5,626.4 908.3,626.5 C910.1,626.6 911.9,626.7 913.7,626.7 C915.5,626.7 917.3,626.7 919.1,626.7 C920.9,626.7 922.7,626.6 924.5,626.5 C926.3,626.4 928.0,626.3 929.8,626.1 C931.6,625.9 933.4,625.7 935.2,625.4 C937.0,625.1 938.8,624.8 940.6,624.5 C942.4,624.2 944.1,623.9 945.9,623.5 C947.7,623.1 949.5,622.7 951.3,622.2 C953.1,621.7 954.8,621.2 956.5,620.7 C958.2,620.2 960.0,619.7 961.8,619.1 C963.5,618.5 965.3,617.9 967.0,617.2 C968.7,616.5 970.4,615.8 972.1,615.1 C973.8,614.4 975.5,613.7 977.2,612.9 C978.9,612.1 980.6,611.3 982.2,610.5 C983.9,609.7 985.5,608.8 987.1,607.9 C988.7,607.0 990.3,606.1 991.9,605.2 C993.5,604.3 995.1,603.3 996.7,602.3 C998.3,601.3 999.8,600.2 1001.3,599.2 C1002.8,598.2 1004.4,597.1 1005.9,596.0 C1007.4,594.9 1008.9,593.8 1010.3,592.6 C1011.7,591.5 1013.1,590.3 1014.5,589.1 C1015.9,587.9 1017.3,586.6 1018.7,585.4 C1020.1,584.1 1021.4,582.9 1022.7,581.6 C1024.0,580.3 1025.3,579.0 1026.6,577.6 C1027.9,576.2 1029.1,574.9 1030.3,573.5 C1031.5,572.1 1032.8,570.7 1033.9,569.3 C1035.1,567.9 1036.1,566.5 1037.2,565.0 C1038.3,563.5 1039.5,562.1 1040.5,560.6 C1041.5,559.1 1042.5,557.5 1043.5,556.0 C1044.5,554.5 1045.4,552.9 1046.3,551.4 C1047.2,549.9 1048.2,548.3 1049.0,546.7 C1049.8,545.1 1050.6,543.5 1051.4,541.9 C1052.2,540.3 1052.9,538.6 1053.6,537.0 C1054.3,535.4 1055.0,533.7 1055.6,532.0 C1056.2,530.3 1056.8,528.7 1057.4,527.0 C1058.0,525.3 1058.5,523.7 1059.0,522.0 C1059.5,520.3 1059.9,518.6 1060.3,516.9 C1060.7,515.2 1061.1,513.4 1061.4,511.7 C1061.7,510.0 1062.0,508.2 1062.2,506.5 C1062.4,504.8 1062.6,503.1 1062.8,501.3 C1063.0,499.6 1063.1,497.8 1063.2,496.0 C1063.3,494.2 1063.3,492.5 1063.3,490.7 C1063.3,488.9 1063.3,487.1 1063.3,485.3 C1063.2,483.5 1063.1,481.8 1063.0,480.0 C1062.9,478.2 1062.7,476.4 1062.5,474.6 C1062.3,472.8 1062.1,470.9 1061.8,469.1 C1061.5,467.3 1061.2,465.5 1060.9,463.7 C1060.6,461.9 1060.2,460.0 1059.8,458.2 C1059.4,456.4 1059.0,454.5 1058.5,452.7 C1058.0,450.9 1057.5,449.0 1057.0,447.2 C1056.5,445.4 1055.9,443.6 1055.3,441.8 C1054.7,440.0 1054.2,438.2 1053.5,436.4 C1052.8,434.6 1052.1,432.8 1051.4,431.0 C1050.7,429.2 1049.9,427.5 1049.1,425.8 C1048.3,424.1 1047.5,422.4 1046.7,420.7 C1045.9,419.0 1044.9,417.4 1044.0,415.8 C1043.1,414.2 1042.1,412.6 1041.1,411.0 C1040.1,409.4 1039.1,407.9 1038.1,406.4 C1037.0,404.9 1035.9,403.4 1034.8,402.0 C1033.7,400.6 1032.6,399.1 1031.4,397.8 C1030.2,396.5 1029.0,395.2 1027.8,394.0 C1026.5,392.8 1025.2,391.5 1023.9,390.3 C1022.6,389.1 1021.3,388.0 1019.9,387.0 C1018.5,386.0 1017.0,385.0 1015.6,384.1 C1014.2,383.2 1012.7,382.2 1011.2,381.4 C1009.7,380.6 1008.2,379.9 1006.6,379.2 C1005.0,378.5 1003.4,377.9 1001.8,377.3 C1000.1,376.8 998.4,376.3 996.7,375.9 C995.0,375.5 993.3,375.2 991.5,374.9 C989.7,374.6 987.9,374.4 986.1,374.3 C984.3,374.2 982.4,374.2 980.6,374.2 C978.8,374.2 977.0,374.4 975.1,374.5 C973.2,374.6 971.3,374.8 969.5,375.1 C967.7,375.4 965.9,375.8 964.1,376.2 C962.3,376.6 960.5,377.1 958.7,377.7 C956.9,378.2 955.2,378.9 953.5,379.5 C951.8,380.1 950.1,380.8 948.5,381.5 C946.9,382.2 945.2,382.9 943.6,383.5 C942.0,384.1 940.3,384.8 938.7,385.4 C937.1,386.0 935.4,386.6 933.8,387.0 C932.2,387.4 930.6,387.8 928.9,388.0 C927.2,388.2 925.5,388.4 923.8,388.4 C922.1,388.4 920.4,388.3 918.7,388.2 C917.0,388.1 915.2,387.8 913.5,387.5 C911.8,387.2 910.0,386.9 908.2,386.5 C906.4,386.1 904.6,385.6 902.8,385.2 C901.0,384.8 899.2,384.3 897.4,383.8 C895.6,383.3 893.8,382.9 892.0,382.4 C890.2,381.9 888.3,381.4 886.5,381.0 C884.7,380.6 882.8,380.2 881.0,379.8 C879.2,379.4 877.3,379.1 875.5,378.8 C873.7,378.5 871.9,378.3 870.1,378.2 Z" fill="#f87b84" stroke="#000" stroke-width="2"/>
<path d="M955,374.2 L961,368.5 L964,359.3 L979,348.8 L996.9,341.4 L1008.8,339.3 L1020.8,339.3 L1026.7,342.9 L1034.2,348.8 L1031.2,349.6 L1023.7,347.5 L1016.3,344.5 L1002.8,343.1 L996.9,344.3 L984.9,351.8 L973,360.8 L961,369.7 Z" fill="#3f8f45" stroke="#000" stroke-width="2" stroke-linejoin="round"/>
<path d="M943.1,357.8 L955,350.3 L973,342.9 L987.9,339.9 L996.9,339.3 L996.9,340.7 L979,345.8 L964,353.3 L949,362.3 L944,364 Z" fill="#3f8f45" stroke="#000" stroke-width="2" stroke-linejoin="round"/>
<path d="M944,358.5 L949,359.3 L967,363.8 L993.9,369.7 L979,368.4 L961,366.9 L949,365.5 L944,365 Z" fill="#3f8f45" stroke="#000" stroke-width="2" stroke-linejoin="round"/>
<path d="M831.8,327.8 L834,323.5 L837,320.6 L841.6,321.4 L850.6,324.6 L859.7,328.2 L866,331.3 L874,329 L882,324.8 L891,322.6 L884,326.5 L877,331.5 L873.2,336.5 L874.5,339.1 L885.9,353 L898.5,365.7 L910.6,372 L918.7,362.9 L923.7,356.9 L929,350 L933,344.5 L934,339 L937,337.6 L940.3,340.3 L937.2,340.6 L938.5,346 L941,352 L942.6,357 L950,359 L958,363 L959,376 L949.5,382.8 L939.6,387.8 L929.6,387.8 L913.7,386.8 L889.8,388.8 L873.9,388.8 L866,382.5 L863.4,377.8 L862.8,365 L863,352 L864.5,342 L866.5,338.6 L864.2,337.3 L855.1,332.7 L846.1,327.8 L838.9,324.6 L835,325 Z" fill="#3f8f45" stroke="none"/>
<path d="M866.5,343 L868.8,338.5 L872.9,346 L875.9,355.9 L883.8,365.9 L886.3,376.3 L877.9,372.9 L869.9,366.9 L864.9,357.9 L865,350 Z" fill="#fff" stroke="none"/>
<polyline points="831.8,327.8 834,323.5 837,320.6 841.6,321.4 850.6,324.6 859.7,328.2 868.5,332 874.5,339.1 885.9,353 898.5,365.7 910.6,372" fill="none" stroke="#000" stroke-width="2" stroke-linejoin="round" stroke-linecap="round"/>
<polyline points="831.8,327.8 835,325 838.9,324.6 846.1,327.8 855.1,332.7 864.2,337.3 866.5,338.6" fill="none" stroke="#000" stroke-width="2" stroke-linejoin="round" stroke-linecap="round"/>
<polyline points="891,322.6 882,324.8 874,329 868,334.5 864.5,342 863,352 862.8,365 863.4,377.8 866,382.5 873.9,388.8" fill="none" stroke="#000" stroke-width="2" stroke-linejoin="round" stroke-linecap="round"/>
<polyline points="891,322.6 884,326.5 877,331.5 871,337 867,342 865,350 864.9,357.9 869.9,366.9 877.9,372.9 886.3,376.3 899.8,378.3 909.7,380.3 913.7,383.8" fill="none" stroke="#000" stroke-width="2" stroke-linejoin="round" stroke-linecap="round"/>
<polyline points="869,337.5 872.9,346 875.9,355.9 883.8,365.9 886.3,376.3" fill="none" stroke="#000" stroke-width="2" stroke-linejoin="round" stroke-linecap="round"/>
<polyline points="910.6,372 918.7,362.9 923.7,356.9 929,350 933,344.5 934,339 937,337.6 940.3,340.3" fill="none" stroke="#000" stroke-width="2" stroke-linejoin="round" stroke-linecap="round"/>
<polyline points="937.2,340.6 938.5,346 941,352 942.6,357 941.6,366 940,377 938.6,386.8" fill="none" stroke="#000" stroke-width="2" stroke-linejoin="round" stroke-linecap="round"/>
<polyline points="913.7,383.8 919.7,379.8 929.6,369.9 941.6,357.9" fill="none" stroke="#000" stroke-width="2" stroke-linejoin="round" stroke-linecap="round"/>
<polyline points="910.2,372.4 910.6,380" fill="none" stroke="#000" stroke-width="2" stroke-linejoin="round" stroke-linecap="round"/>
<polyline points="863.4,377.8 866,382.5 873.9,388.8 889.8,388.8 913.7,386.8 929.6,387.8 939.6,387.8 949.5,382.8 956,378.5" fill="none" stroke="#000" stroke-width="2" stroke-linejoin="round" stroke-linecap="round"/>
<path d="M997.2,342 Q999,347 998.2,353.5" fill="none" stroke="#000" stroke-width="1.8"/>
<text x="842.23" y="422.9" font-size="20.3" fill="#000" textLength="27.03" lengthAdjust="spacing" stroke="#000" stroke-width="0.12">ET</text>
<text x="965.98" y="422.6" font-size="20.3" fill="#000" textLength="54.02" lengthAdjust="spacing" stroke="#000" stroke-width="0.12">JA-Ile</text>
<text x="839.83" y="492" font-size="20.3" fill="#000" textLength="33.04" lengthAdjust="spacing" stroke="#000" stroke-width="0.12">EIL</text>
<text x="965.63" y="492" font-size="20.3" fill="#000" textLength="57.39" lengthAdjust="spacing" stroke="#000" stroke-width="0.12">MYC2</text>
<text x="826.74" y="549.6" font-size="20.3" fill="#000" textLength="62.00" lengthAdjust="spacing" stroke="#000" stroke-width="0.12">Quality</text>
<text x="815.91" y="571" font-size="20.3" fill="#000" textLength="85.41" lengthAdjust="spacing" stroke="#000" stroke-width="0.12">formation</text>
<text x="954.43" y="554.8" font-size="20.3" fill="#000" textLength="79.57" lengthAdjust="spacing" stroke="#000" stroke-width="0.12">Defense</text>
<ellipse cx="926.2" cy="449.1" rx="51.8" ry="15" fill="#c10000" stroke="#000" stroke-width="2"/>
<text x="887.09" y="455" font-size="18" fill="#fff" textLength="77.99" lengthAdjust="spacing" >CYP94C1</text>
<line x1="856.5" y1="431.8" x2="856.5" y2="456.8" stroke="#000" stroke-width="2.2" />
<path d="M850.3,455.8 L862.7,455.8 L856.5,467.8 Z" fill="#000"/>
<line x1="993.8" y1="431.8" x2="993.8" y2="456.8" stroke="#000" stroke-width="2.2" />
<path d="M987.5999999999999,455.8 L1000.0,455.8 L993.8,467.8 Z" fill="#000"/>
<line x1="856.7" y1="495.2" x2="856.7" y2="521.8" stroke="#000" stroke-width="2.2" />
<path d="M850.5,520.8 L862.9000000000001,520.8 L856.7,532.8 Z" fill="#000"/>
<line x1="993.6" y1="496.2" x2="993.6" y2="522.8" stroke="#000" stroke-width="2.2" />
<path d="M987.4,521.8 L999.8000000000001,521.8 L993.6,533.8 Z" fill="#000"/>
<path d="M881.4,485.7 C893,485 905,482 914,477.5" fill="none" stroke="#000" stroke-width="2.2"/>
<path d="M924.6,469.1 L911.5,473.7 L921,482.2 Z" fill="#000"/>
<path d="M931.4,428.3 C935,421 942,416 950,415 C953,414.7 956,414.6 959.6,414.6" fill="none" stroke="#000" stroke-width="2.2"/>
<line x1="960" y1="409.6" x2="960" y2="419.8" stroke="#000" stroke-width="2.4" />
</svg>
</body></html>
